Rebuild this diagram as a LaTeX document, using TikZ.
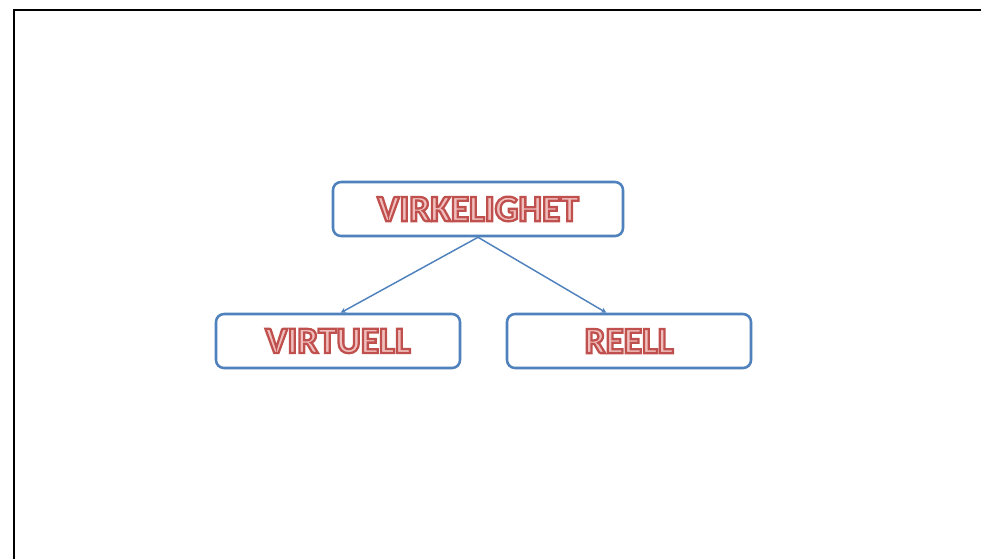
\documentclass[tikz,border=0pt]{standalone}
\usepackage{fontspec}
\setmainfont{Carlito}
\usetikzlibrary{arrows.meta,shadows}
\definecolor{boxblue}{HTML}{4F81BD}
\definecolor{txtred}{HTML}{C0504D}
\definecolor{txtfill}{HTML}{F0BFBD}
\tikzset{
  termbox/.style={draw=boxblue, line width=1.9pt, rounded corners=6pt, fill=white,
    minimum height=40.5pt, inner sep=0pt,
    drop shadow={shadow xshift=0.8pt, shadow yshift=-0.8pt, opacity=0.25}},
  link/.style={draw=boxblue, line width=1.1pt, -{Stealth[length=4pt,width=4pt]}},
  lbl/.style={font=\fontsize{28}{28}\selectfont\bfseries, text=txtfill}
}
\newcommand{\outl}[1]{\special{pdf:literal direct 2 Tr 1.7 w 0.753 0.314 0.302 RG}#1\special{pdf:literal direct 0 Tr}}
\begin{document}
\begin{tikzpicture}[x=0.75pt,y=-0.75pt]
\useasboundingbox (0,0) rectangle (981,558);
\begin{scope}
\clip (0,0) rectangle (981,558);
\draw[line width=2.2pt, black] (14,10) rectangle (1000,600);
\end{scope}
\node[termbox, minimum width=217.5pt] (top) at (478,209) {};
\node[termbox, minimum width=183pt] (left) at (338,341) {};
\node[termbox, minimum width=183pt] (right) at (629,341) {};
\node[lbl] (tt) at (top) {\outl{VIRKELIGHET}};
\node[lbl] (lt) at (left) {\outl{VIRTUELL}};
\node[lbl] (rt) at (right) {\outl{REELL}};
\coordinate (apex) at (top.south);
\draw[link] (apex) -- ([xshift=2pt]left.north);
\draw[link] (apex) -- ([xshift=-17pt]right.north);
\end{tikzpicture}
\end{document}
